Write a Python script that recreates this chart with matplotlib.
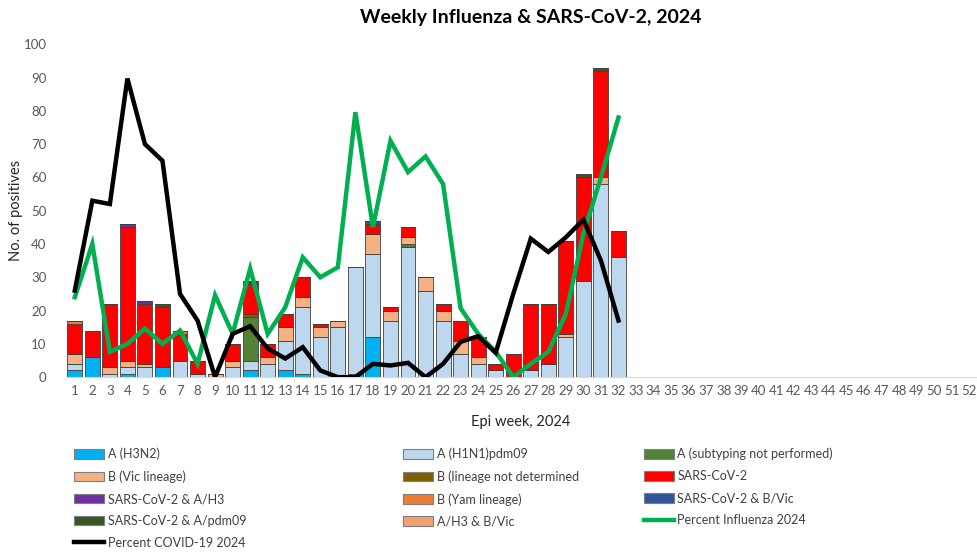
import numpy as np
import matplotlib
matplotlib.use('Agg')
import matplotlib.pyplot as plt
from matplotlib.patches import Patch
from matplotlib.lines import Line2D

plt.rcParams['font.family'] = ['Lato', 'DejaVu Sans']

# Epi weeks with data (axis runs to 52)
weeks = list(range(1, 33))
all_weeks = list(range(1, 53))

# Stacked counts per week (bottom to top)
h3n2 = [2, 6, 0, 1, 0, 3, 0, 0, 0, 0, 2, 0, 2, 1, 0, 0, 1, 12, 0, 0, 0, 0, 0, 0, 0, 0, 0, 0, 0, 0, 0, 0]
h1n1 = [2, 0, 1, 2, 3, 0, 5, 1, 0, 3, 3, 4, 9, 20, 12, 15, 32, 25, 17, 39, 26, 17, 7, 4, 2, 0, 2, 4, 12, 29, 58, 36]
a_nosub = [0, 0, 0, 0, 0, 0, 0, 0, 0, 0, 13, 0, 0, 0, 0, 0, 0, 0, 0, 1, 0, 0, 0, 0, 0, 0, 0, 0, 0, 0, 0, 0]
b_vic = [3, 0, 2, 2, 1, 0, 0, 0, 1, 2, 0, 2, 4, 3, 3, 2, 0, 6, 3, 2, 4, 3, 4, 2, 0, 0, 0, 0, 1, 0, 2, 0]
b_nd = [0, 0, 0, 0, 0, 0, 0, 0, 0, 0, 1, 0, 0, 0, 0, 0, 0, 0, 0, 0, 0, 0, 0, 0, 0, 0, 0, 0, 0, 0, 0, 0]
sars = [9, 8, 19, 40, 18, 18, 8, 4, 0, 5, 9, 4, 4, 6, 1, 0, 0, 3, 1, 3, 0, 2, 6, 6, 2, 7, 20, 18, 28, 31, 32, 8]
sars_h3 = [0, 0, 0, 1, 1, 0, 0, 0, 0, 0, 0, 0, 0, 0, 0, 0, 0, 0, 0, 0, 0, 0, 0, 0, 0, 0, 0, 0, 0, 0, 0, 0]
b_yam = [1, 0, 0, 0, 0, 0, 1, 0, 0, 0, 0, 0, 0, 0, 0, 0, 0, 0, 0, 0, 0, 0, 0, 0, 0, 0, 0, 0, 0, 0, 0, 0]
sars_bvic = [0, 0, 0, 0, 0, 0, 0, 0, 0, 0, 0, 0, 0, 0, 0, 0, 0, 1, 0, 0, 0, 0, 0, 0, 0, 0, 0, 0, 0, 0, 0, 0]
sars_pdm = [0, 0, 0, 0, 0, 1, 0, 0, 0, 0, 1, 0, 0, 0, 0, 0, 0, 0, 0, 0, 0, 0, 0, 0, 0, 0, 0, 0, 0, 1, 1, 0]
h3_bvic = [0] * 32

# Percent positive lines
pct_flu = [24, 40, 7.6, 10, 14.6, 10, 14, 4, 24.6, 13, 32.6, 13, 21, 36, 30, 33, 79.6, 45, 71, 61.6,
           66.3, 58, 20.7, 13, 7.6, 0, 4, 7.6, 19, 43, 60, 78]
pct_covid = [26, 53, 52, 89.7, 70, 65, 25, 17, 0, 13, 15.3, 8.6, 5.6, 9, 2, 0, 0, 4, 3.5, 4.3,
             0, 4, 10.6, 12.3, 7.3, 25, 41.6, 37.6, 42, 47.3, 35, 17]

series = [
    ('A (H3N2)', h3n2, '#00B0F0'),
    ('A (H1N1)pdm09', h1n1, '#BDD7EE'),
    ('A (subtyping not performed)', a_nosub, '#548235'),
    ('B (Vic lineage)', b_vic, '#F4B183'),
    ('B (lineage not determined', b_nd, '#7F6000'),
    ('SARS-CoV-2', sars, '#FF0000'),
    ('SARS-CoV-2 & A/H3', sars_h3, '#7030A0'),
    ('B (Yam lineage)', b_yam, '#ED7D31'),
    ('SARS-CoV-2 & B/Vic', sars_bvic, '#2F5597'),
    ('SARS-CoV-2 & A/pdm09', sars_pdm, '#375623'),
    ('A/H3 & B/Vic', h3_bvic, '#F4A070'),
]

fig = plt.figure(figsize=(9.78, 5.53), dpi=100)
ax = fig.add_axes([0.0675, 0.318, 0.9325, 0.602])

bottom = np.zeros(len(weeks))
for name, vals, col in series:
    ax.bar(weeks, vals, bottom=bottom, width=0.85, color=col,
           edgecolor='#404040', linewidth=0.6, zorder=2)
    bottom += np.array(vals)

ax.plot(weeks, pct_flu, color='#00B050', linewidth=3.2, zorder=3, solid_joinstyle='miter')
ax.plot(weeks, pct_covid, color='black', linewidth=3.2, zorder=3, solid_joinstyle='miter')

ax.set_xlim(0.5, 52.5)
ax.set_ylim(0, 100)
ax.set_xticks(all_weeks)
ax.set_xticklabels([str(w) for w in all_weeks])
ax.set_yticks(range(0, 101, 10))
ax.tick_params(axis='both', length=0, labelsize=9.5, labelcolor='#595959')
ax.tick_params(axis='x', pad=6)
ax.tick_params(axis='y', pad=14)
for s in ['top', 'right', 'left']:
    ax.spines[s].set_visible(False)
ax.spines['bottom'].set_color('#D9D9D9')

fig.text(0.543, 0.969, 'Weekly Influenza & SARS-CoV-2, 2024', ha='center', va='center',
         fontsize=14, fontweight='bold', color='black')
fig.text(0.016, 0.62, 'No. of positives', rotation=90, ha='center', va='center',
         fontsize=10.5, color='#262626')
fig.text(0.532, 0.236, 'Epi week, 2024', ha='center', va='center', fontsize=10.5, color='#262626')

# Legend: three columns laid out row by row
handles = [Patch(facecolor=c, edgecolor='#7F7F7F', linewidth=0.8, label=n) for n, v, c in series]
handles.append(Line2D([0], [0], color='#00B050', linewidth=3.2, label='Percent Influenza 2024'))
handles.append(Line2D([0], [0], color='black', linewidth=3.2, label='Percent COVID-19 2024'))

col_x = [0.076, 0.412, 0.658]
for ci in range(3):
    hs = handles[ci::3]
    leg = fig.legend(handles=hs, loc='upper left', bbox_to_anchor=(col_x[ci], 0.19),
                     frameon=False, fontsize=9, handlelength=2.4, handleheight=0.8,
                     handletextpad=0.3, labelspacing=0.8, borderaxespad=0, borderpad=0)
    for t in leg.get_texts():
        t.set_color('#404040')

fig.savefig('out.png', dpi=100)
